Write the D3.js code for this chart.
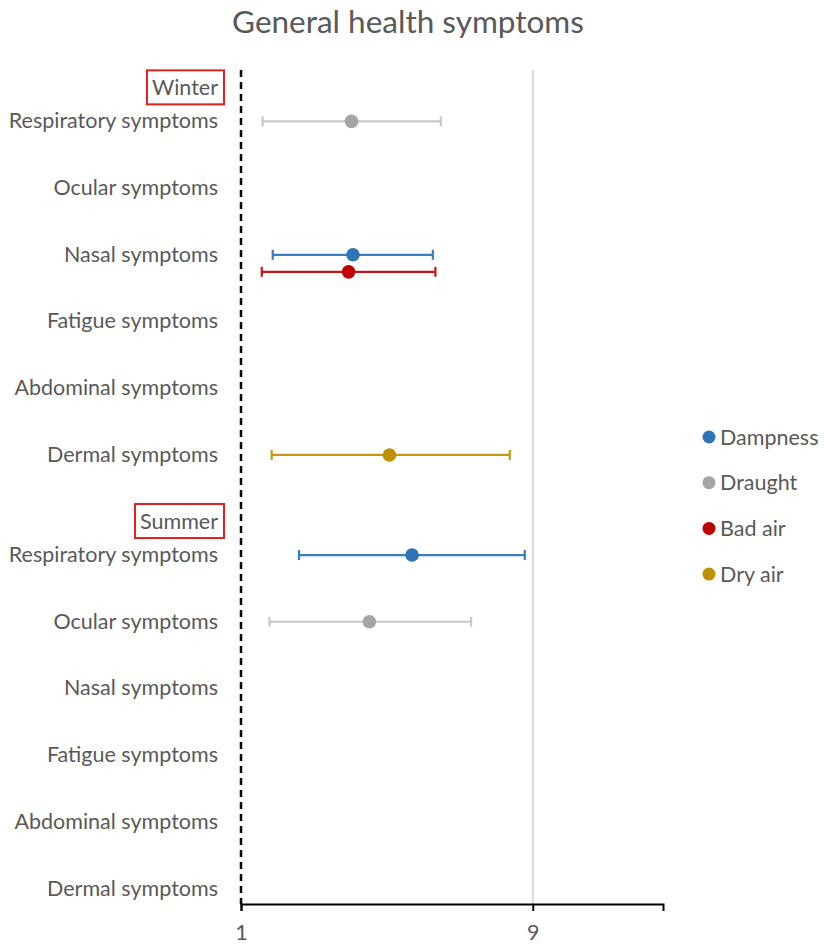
<!DOCTYPE html>
<html>
<head>
<meta charset="utf-8">
<script src="https://cdn.jsdelivr.net/npm/d3@7"></script>
<style>
  html, body { margin: 0; padding: 0; background: #fff; }
  svg { display: block; }
  text { font-family: "Lato", "Open Sans", "Liberation Sans", sans-serif; fill: #595959; }
</style>
</head>
<body>
<svg id="chart" width="824" height="951"></svg>
<script>
// ---- Data ----
const title = "General health symptoms";
const seasons = ["Winter", "Summer"];
const symptoms = ["Respiratory symptoms", "Ocular symptoms", "Nasal symptoms",
                  "Fatigue symptoms", "Abdominal symptoms", "Dermal symptoms"];
const seriesNames = ["Dampness", "Draught", "Bad air", "Dry air"];
const xTickValues = [1, 9];

// Odds ratio estimates with confidence limits
const pointSeason  = ["Winter", "Winter", "Winter", "Winter", "Summer", "Summer"];
const pointSymptom = ["Respiratory symptoms", "Nasal symptoms", "Nasal symptoms",
                      "Dermal symptoms", "Respiratory symptoms", "Ocular symptoms"];
const pointSeries  = ["Draught", "Dampness", "Bad air", "Dry air", "Dampness", "Draught"];
const pointOR      = [4.03, 4.07, 3.95, 5.07, 5.69, 4.52];
const pointLow     = [1.59, 1.87, 1.57, 1.84, 2.59, 1.78];
const pointHigh    = [6.48, 6.26, 6.33, 8.37, 8.78, 7.31];

// ---- Styles ----
const markerColor = { "Dampness": "#2E75B6", "Draught": "#A5A5A5", "Bad air": "#C00000", "Dry air": "#BF9000" };
const barColor    = { "Dampness": "#3B7DC0", "Draught": "#C8C8C8", "Bad air": "#C81414", "Dry air": "#C49A10" };
const rowShift    = { "Dampness": 0.01, "Draught": 0.01, "Bad air": 0.265, "Dry air": 0.01 };
const FS = "21.5px";

const svg = d3.select("#chart");

// row positions: winter rows 0..5, summer header at 6, summer rows 6.5..11.5
function rowPos(season, symptom) {
  const i = symptoms.indexOf(symptom);
  return season === "Winter" ? i : 6.5 + i;
}
const headerPos = { "Winter": -0.5, "Summer": 6 };

const x = d3.scaleLinear().domain([1, 12.57]).range([241, 663]);
const y = d3.scaleLinear().domain([-0.76, 11.74]).range([70, 904]);

// Title
svg.append("text")
  .attr("x", 408).attr("y", 33)
  .attr("text-anchor", "middle")
  .style("font-size", "31.5px")
  .text(title);

// gridline at 9
svg.append("line")
  .attr("x1", x(9)).attr("x2", x(9))
  .attr("y1", y.range()[0]).attr("y2", y.range()[1])
  .attr("stroke", "#D9D9D9").attr("stroke-width", 2);

// dashed reference line at 1
svg.append("line")
  .attr("x1", x(1)).attr("x2", x(1))
  .attr("y1", y.range()[0]).attr("y2", y.range()[1])
  .attr("stroke", "#000").attr("stroke-width", 2.5)
  .attr("stroke-dasharray", "7,5");

// x axis
const xAxis = svg.append("g")
  .attr("transform", `translate(0,${y.range()[1]})`)
  .call(d3.axisBottom(x).tickValues(xTickValues).tickFormat(d3.format("d")).tickSizeOuter(0).tickSize(7).tickPadding(14));
xAxis.select(".domain").attr("stroke", "#000").attr("stroke-width", 2);
xAxis.selectAll(".tick line").attr("stroke", "#000").attr("stroke-width", 2);
xAxis.selectAll(".tick text").style("font-size", FS).attr("fill", "#595959")
  .style("font-family", "Lato, 'Open Sans', sans-serif");

// Category labels
const labelX = 218;
seasons.forEach(season => {
  symptoms.forEach(sym => {
    svg.append("text")
      .attr("x", labelX).attr("y", y(rowPos(season, sym)))
      .attr("dy", "0.35em")
      .attr("text-anchor", "end")
      .style("font-size", FS)
      .text(sym);
  });
  const hy = y(headerPos[season]);
  const t = svg.append("text")
    .attr("x", labelX).attr("y", hy)
    .attr("dy", "0.35em")
    .attr("text-anchor", "end")
    .style("font-size", FS)
    .text(season);
  const bb = t.node().getBBox();
  svg.append("rect")
    .attr("x", bb.x - 5).attr("y", hy - 17)
    .attr("width", 224 - (bb.x - 5)).attr("height", 34)
    .attr("fill", "none").attr("stroke", "#E02020").attr("stroke-width", 2);
});

// Points and error bars
const points = pointOR.map((v, i) => ({
  season: pointSeason[i], symptom: pointSymptom[i], series: pointSeries[i],
  or: v, lo: pointLow[i], hi: pointHigh[i]
}));

const g = svg.append("g");
points.forEach(p => {
  const cy = y(rowPos(p.season, p.symptom) + rowShift[p.series]);
  const c = barColor[p.series];
  g.append("line").attr("x1", x(p.lo)).attr("x2", x(p.hi)).attr("y1", cy).attr("y2", cy)
    .attr("stroke", c).attr("stroke-width", 2.2);
  [p.lo, p.hi].forEach(v => {
    g.append("line").attr("x1", x(v)).attr("x2", x(v)).attr("y1", cy - 5).attr("y2", cy + 5)
      .attr("stroke", c).attr("stroke-width", 2.2);
  });
  g.append("circle").attr("cx", x(p.or)).attr("cy", cy).attr("r", 6.8)
    .attr("fill", markerColor[p.series]);
});

// Legend
const legend = svg.append("g");
seriesNames.forEach((s, i) => {
  const ly = 437 + i * 45.7;
  legend.append("circle").attr("cx", 709).attr("cy", ly).attr("r", 6.5).attr("fill", markerColor[s]);
  legend.append("text").attr("x", 720).attr("y", ly).attr("dy", "0.35em")
    .style("font-size", FS).text(s);
});
</script>
</body>
</html>
